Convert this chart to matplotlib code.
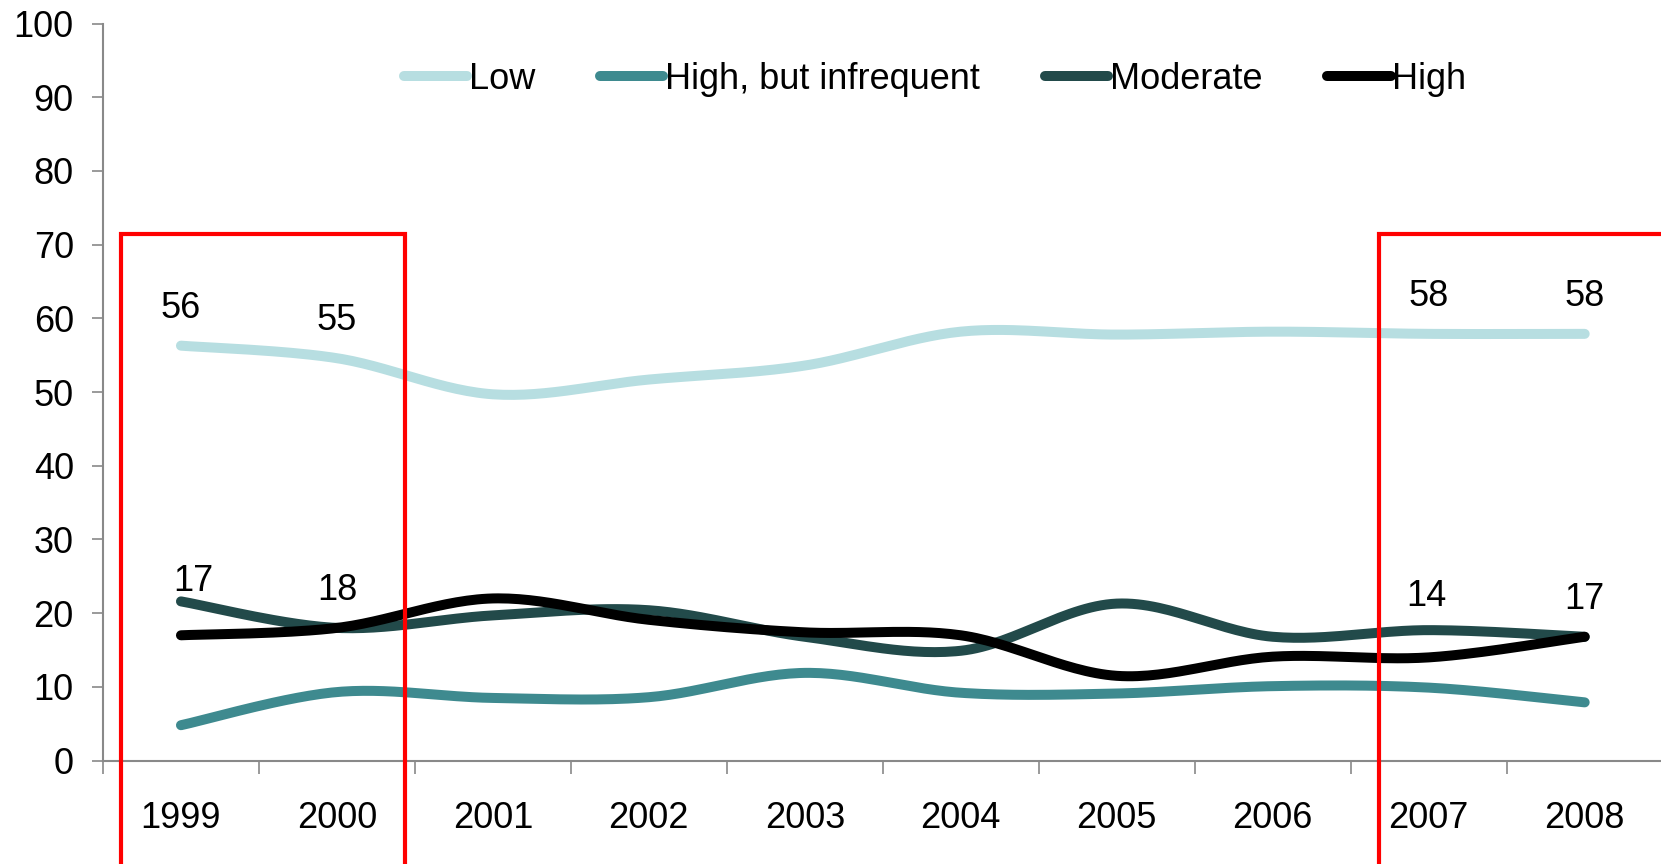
import numpy as np
import matplotlib.pyplot as plt
from matplotlib.patches import Rectangle

plt.rcParams['font.family'] = ['Liberation Sans', 'DejaVu Sans']

years = ['1999', '2000', '2001', '2002', '2003', '2004', '2005', '2006', '2007', '2008']
low = [56.3, 54.6, 49.7, 51.7, 53.6, 58.2, 57.8, 58.2, 57.9, 57.9]
high_infrequent = [4.8, 9.3, 8.5, 8.6, 11.9, 9.2, 9.1, 10.1, 9.9, 7.9]
moderate = [21.6, 18.0, 19.7, 20.4, 16.8, 14.9, 21.3, 16.8, 17.7, 16.8]
high = [17.0, 18.0, 22.0, 19.1, 17.4, 17.0, 11.5, 14.1, 14.0, 16.8]

low_labels = {0: '56', 1: '55', 8: '58', 9: '58'}
high_labels = {0: '17', 1: '18', 8: '14', 9: '17'}


def smooth(y, n=30):
    # excel-style smoothed line (catmull-rom through the points)
    x = np.arange(len(y), dtype=float)
    y = np.asarray(y, dtype=float)
    xs, ys = [], []
    for i in range(len(y) - 1):
        i0, i3 = max(i - 1, 0), min(i + 2, len(y) - 1)
        t = np.linspace(0, 1, n, endpoint=(i == len(y) - 2))
        for arr, out in ((x, xs), (y, ys)):
            p0, p1, p2, p3 = arr[i0], arr[i], arr[i + 1], arr[i3]
            c1 = p1 + (p2 - p0) / 6
            c2 = p2 - (p3 - p1) / 6
            out.extend((1 - t) ** 3 * p1 + 3 * (1 - t) ** 2 * t * c1
                       + 3 * (1 - t) * t ** 2 * c2 + t ** 3 * p2)
    return xs, ys


fig = plt.figure(figsize=(16.61, 8.64), dpi=100)
ax = fig.add_axes([0.062, 0.1197, 0.939, 0.853])

series = [
    (low, '#B7DEE1', 'Low'),
    (high_infrequent, '#3E8A8F', 'High, but infrequent'),
    (moderate, '#224A4A', 'Moderate'),
    (high, '#000000', 'High'),
]
for vals, col, name in series:
    sx, sy = smooth(vals)
    ax.plot(sx, sy, color=col, lw=7.2, solid_capstyle='round', label=name)

fs = 26
for i, t in low_labels.items():
    ax.annotate(t, (i, low[i]), xytext=(0, 27), textcoords='offset points',
                ha='center', va='center', fontsize=fs)
high_off = {0: (9, 39), 1: (0, 27), 8: (-2, 44), 9: (0, 27)}
for i, t in high_labels.items():
    ax.annotate(t, (i, high[i]), xytext=high_off[i], textcoords='offset points',
                ha='center', va='center', fontsize=fs)

ax.set_xlim(-0.5, 9.5)
ax.set_ylim(0, 100)
ax.set_yticks(range(0, 101, 10))
ax.set_xticks(range(len(years)))
ax.set_xticklabels(years)
ax.set_xticks(np.arange(-0.5, 10, 1), minor=True)
ax.tick_params(axis='x', which='major', length=0, pad=29, labelsize=fs)
ax.tick_params(axis='x', which='minor', length=9, width=1.2, color='#898989')
ax.tick_params(axis='y', length=8, width=1.2, color='#898989', pad=13, labelsize=fs)
for s in ['top', 'right']:
    ax.spines[s].set_visible(False)
for s in ['left', 'bottom']:
    ax.spines[s].set_color('#898989')
    ax.spines[s].set_linewidth(1.5)

# red highlight boxes
for x0, x1 in [(-0.387, 1.438), (7.68, 9.8)]:
    ax.add_patch(Rectangle((x0, -17), x1 - x0, 71.4 + 17, fill=False,
                           edgecolor='#FF0000', lw=3, clip_on=False, zorder=5))

fig.legend(loc='center', bbox_to_anchor=(0.563, 0.908), ncol=4, frameon=False,
           fontsize=fs, handlelength=1.75, handletextpad=0.05, columnspacing=1.8)

fig.savefig('out.png', dpi=100)
